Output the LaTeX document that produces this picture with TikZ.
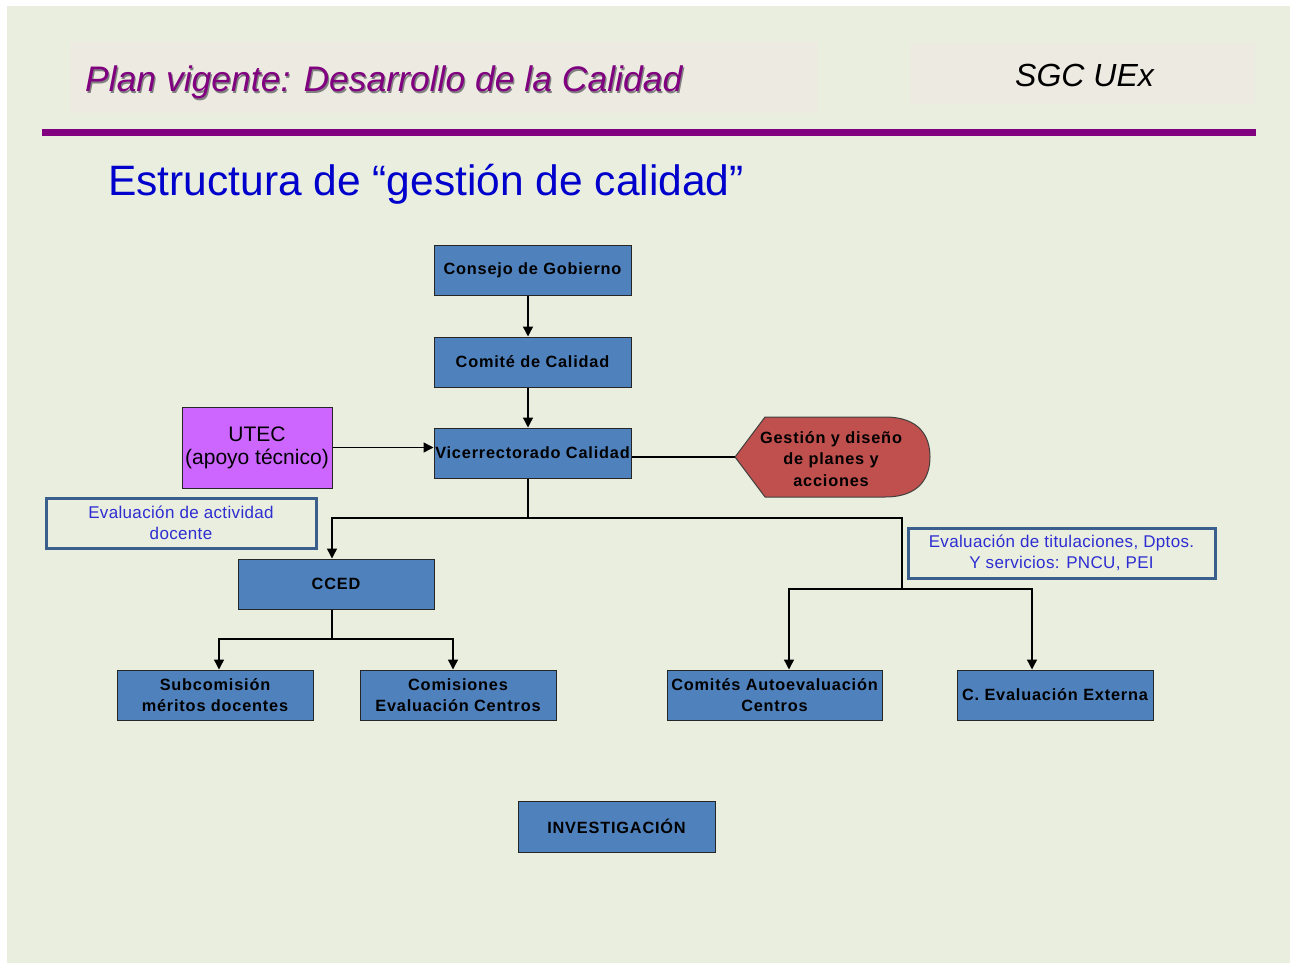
\documentclass[tikz,border=0pt]{standalone}
\usepackage{fontspec}
\setmainfont{Liberation Sans}
\newfontfamily\spaced[LetterSpace=5]{Liberation Sans}
\newfontfamily\lightspaced[LetterSpace=2]{Liberation Sans}
\usetikzlibrary{arrows.meta}
\definecolor{bg}{RGB}{234,238,222}
\definecolor{hdr}{RGB}{237,235,225}
\definecolor{purp}{RGB}{128,0,128}
\definecolor{titleblue}{RGB}{0,0,204}
\definecolor{boxblue}{RGB}{79,129,189}
\definecolor{utecpink}{RGB}{204,102,255}
\definecolor{hexred}{RGB}{192,80,77}
\definecolor{lblblue}{RGB}{45,45,210}
\definecolor{lblframe}{RGB}{58,95,140}
\begin{document}
\begin{tikzpicture}[x=1pt,y=-1pt,
  orgbox/.style={draw=black!85, fill=boxblue, line width=1pt, minimum width=197pt, minimum height=50pt,
    inner sep=0pt, align=center, font=\spaced\bfseries\fontsize{16.3}{21}\selectfont},
  utecbox/.style={draw=black!85, fill=utecpink, line width=1pt, minimum width=150pt, minimum height=81pt,
    inner sep=0pt, align=center, font=\fontsize{21}{23}\selectfont},
  lblbox/.style={draw=lblframe, line width=3pt, minimum width=270pt, minimum height=50pt,
    inner sep=0pt, align=center, text=lblblue, font=\lightspaced\fontsize{17}{21.5}\selectfont},
  hexstyle/.style={draw=black!75, fill=hexred, line width=1pt},
  hextext/.style={align=center, inner sep=0pt, font=\spaced\bfseries\fontsize{16.3}{21.5}\selectfont},
  conn/.style={line width=1.4pt, draw=black},
  arr/.style={conn, -{Triangle[length=10pt,width=10pt]}},
]
\useasboundingbox (0,0) rectangle (1290,963);
\fill[white] (0,0) rectangle (1290,963);
\fill[bg] (7,6) rectangle (1290,963);
\fill[hdr] (70,42) rectangle (818,113);
\fill[hdr] (910,43) rectangle (1255,104);
\fill[purp] (42,129) rectangle (1256,136);

\node[anchor=base west, inner sep=0pt, text=black!50, font=\itshape\fontsize{35.5}{40}\selectfont] (hdrshadow) at (86.2,93.2) {Plan vigente: Desarrollo de la Calidad};
\node[anchor=base west, inner sep=0pt, text=purp, font=\itshape\fontsize{35.5}{40}\selectfont] (hdrtitle) at (85,92) {Plan vigente: Desarrollo de la Calidad};
\node[anchor=base west, inner sep=0pt, text=black, font=\itshape\fontsize{32}{36}\selectfont] (sgc) at (1015,87) {SGC UEx};
\node[anchor=base west, inner sep=0pt, text=titleblue, font=\fontsize{42.5}{48}\selectfont] (maintitle) at (108,195) {Estructura de “gestión de calidad”};

\node[orgbox] (cons) at (532.5,270) {Consejo de Gobierno};
\node[orgbox] (comi) at (532.5,362) {Comité de Calidad};
\node[orgbox] (vice) at (532.5,453) {Vicerrectorado Calidad};
\node[utecbox] (utec) at (257,447.5) {UTEC\\(apoyo técnico)};

\draw[hexstyle] (735,457) -- (765,417) -- (885,417) .. controls (920,417) and (930,437) .. (930,457)
  .. controls (930,477) and (920,497) .. (885,497) -- (765,497) -- cycle;
\coordinate (hexl) at (735,457);
\node[hextext] (gest) at (831,459) {Gestión y diseño\\de planes y\\acciones};

\node[lblbox] (evdoc) at (181,523) {Evaluación de actividad\\docente};
\node[lblbox, minimum width=307pt] (evtit) at (1061.5,553) {Evaluación de titulaciones, Dptos.\\Y servicios: PNCU, PEI};

\node[orgbox, minimum width=196pt] (cced) at (336,584) {CCED};
\node[orgbox, minimum width=196pt] (sub) at (215,695) {Subcomisión\\méritos docentes};
\node[orgbox, minimum width=196pt] (comis) at (458,695) {Comisiones\\Evaluación Centros};
\node[orgbox, minimum width=215pt] (auto) at (774.5,695) {Comités Autoevaluación\\Centros};
\node[orgbox, minimum width=196pt] (ext) at (1055,695) {C. Evaluación Externa};
\node[orgbox, minimum height=51pt] (inv) at (616.5,826.5) {INVESTIGACIÓN};

\coordinate (x1) at (528,0);
\draw[arr] (cons.south -| x1) -- (comi.north -| x1);
\draw[arr] (comi.south -| x1) -- (vice.north -| x1);
\draw[arr] (utec.east) -- (utec.east -| vice.west);
\draw[conn] (vice.east |- hexl) -- (hexl);

\coordinate (j1) at (528,518);
\coordinate (j1l) at (332,518);
\coordinate (j1r) at (902,518);
\coordinate (j2) at (902,589);
\coordinate (j2l) at (789,589);
\coordinate (j2r) at (1032,589);
\coordinate (j3) at (332,639);
\coordinate (j3l) at (219,639);
\coordinate (j3r) at (453,639);

\draw[conn] (vice.south -| x1) -- (j1);
\draw[arr] (j1) -- (j1l) -- (cced.north -| j1l);
\draw[conn] (j1) -- (j1r) -- (j2);
\draw[arr] (j2) -- (j2l) -- (auto.north -| j2l);
\draw[arr] (j2) -- (j2r) -- (ext.north -| j2r);
\draw[conn] (cced.south -| j3) -- (j3);
\draw[arr] (j3) -- (j3l) -- (sub.north -| j3l);
\draw[arr] (j3) -- (j3r) -- (comis.north -| j3r);
\end{tikzpicture}
\end{document}
